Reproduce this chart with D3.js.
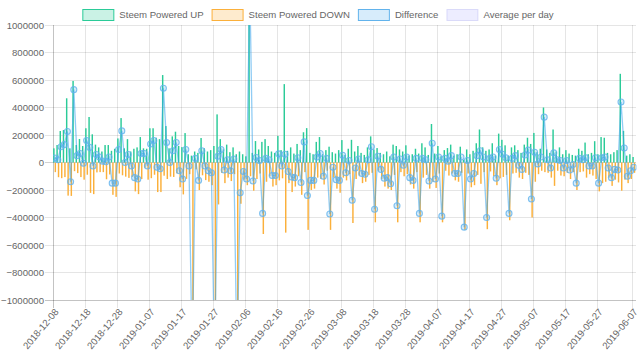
<!DOCTYPE html>
<html><head><meta charset="utf-8">
<script src="https://cdn.jsdelivr.net/npm/d3@7/dist/d3.min.js"></script>
<style>body{margin:0;background:#fff}svg{display:block;font-family:"Liberation Sans",Arial,Helvetica,sans-serif}</style>
</head><body><svg id="c" width="640" height="361"></svg>
<script>
const startDate = "2018-12-08";
const endDate = "2019-06-08";
const seriesNames = ["Steem Powered UP", "Steem Powered DOWN", "Difference", "Average per day"];
const poweredUp = [103000,127000,229000,236000,467000,103000,593000,127000,171000,120000,249000,331000,205000,130000,110000,80000,127000,127000,85000,100000,175000,323000,103000,170000,80000,100000,110000,185000,103000,100000,249000,249000,180000,170000,636000,265000,103000,190000,224000,120000,112000,214000,60000,50000,80000,70000,178000,103000,80000,90000,120000,350000,170000,95000,130000,75000,110000,60000,80000,60000,45000,1400000,70000,156000,95000,150000,170000,120000,80000,70000,193000,90000,570000,85000,110000,65000,135000,90000,220000,250000,70000,60000,150000,185000,60000,90000,115000,75000,65000,90000,163000,55000,100000,165000,80000,120000,70000,55000,110000,190000,95000,105000,70000,60000,80000,45000,130000,120000,95000,80000,125000,50000,60000,100000,65000,140000,110000,55000,280000,65000,120000,45000,90000,105000,130000,50000,60000,115000,20000,95000,60000,85000,140000,240000,110000,85000,95000,140000,50000,210000,165000,125000,50000,110000,125000,90000,70000,130000,180000,135000,215000,75000,100000,400000,95000,70000,240000,80000,110000,60000,90000,65000,55000,50000,100000,85000,145000,60000,70000,155000,60000,185000,180000,70000,60000,75000,90000,645000,230000,50000,60000,40000];
const poweredDown = [-70000,-107000,-114000,-106000,-241000,-243000,-63000,-77000,-106000,-125000,-89000,-221000,-230000,-72000,-70000,-70000,-122000,-87000,-235000,-250000,-80000,-93000,-103000,-112000,-105000,-210000,-230000,-120000,-38000,-125000,-114000,-89000,-215000,-215000,-96000,-120000,-103000,-105000,-79000,-180000,-232000,-119000,-85000,-1500000,-50000,-200000,-93000,-128000,-140000,-165000,-1600000,-305000,-75000,-150000,-110000,-135000,-85000,-1500000,-300000,-125000,-165000,-100000,-205000,-120000,-80000,-520000,-140000,-100000,-175000,-165000,-130000,-115000,-510000,-150000,-215000,-175000,-100000,-235000,-70000,-490000,-200000,-190000,-110000,-120000,-160000,-60000,-490000,-110000,-190000,-220000,-110000,-130000,-85000,-440000,-120000,-95000,-150000,-140000,-90000,-75000,-435000,-60000,-120000,-175000,-190000,-200000,-90000,-435000,-70000,-100000,-85000,-160000,-190000,-70000,-435000,-110000,-90000,-190000,-140000,-185000,-80000,-435000,-60000,-95000,-80000,-130000,-140000,-75000,-490000,-80000,-180000,-165000,-90000,-155000,-70000,-485000,-65000,-100000,-165000,-115000,-105000,-90000,-420000,-80000,-75000,-110000,-120000,-75000,-90000,-400000,-140000,-85000,-60000,-70000,-75000,-110000,-170000,-60000,-95000,-100000,-75000,-120000,-70000,-200000,-70000,-65000,-110000,-85000,-95000,-120000,-210000,-150000,-140000,-110000,-170000,-125000,-145000,-205000,-125000,-150000,-120000,-75000];
const difference = [33000,20000,115000,130000,226000,-140000,530000,50000,65000,-5000,160000,110000,-25000,58000,40000,10000,5000,40000,-150000,-150000,95000,230000,0,58000,-25000,-110000,-120000,65000,65000,-25000,135000,160000,-35000,-45000,540000,145000,0,85000,145000,-60000,-120000,95000,-25000,-1450000,30000,-130000,85000,-25000,-60000,-75000,-1480000,45000,95000,-55000,20000,-60000,25000,-1440000,-220000,-65000,-120000,1300000,-135000,36000,15000,-370000,30000,20000,-95000,-95000,63000,-25000,60000,-65000,-105000,-110000,35000,-145000,150000,-240000,-130000,-130000,40000,65000,-100000,30000,-375000,-35000,-125000,-130000,53000,-75000,15000,-275000,-40000,25000,-80000,-85000,20000,115000,-340000,45000,-50000,-115000,-110000,-155000,40000,-315000,25000,-20000,40000,-110000,-130000,30000,-370000,30000,20000,-135000,140000,-120000,40000,-390000,30000,10000,50000,-80000,-80000,40000,-470000,15000,-120000,-80000,50000,85000,40000,-400000,30000,40000,-115000,95000,60000,35000,-370000,30000,50000,-20000,-50000,55000,90000,-265000,75000,-10000,40000,330000,20000,-40000,70000,20000,15000,-40000,15000,-55000,-15000,-150000,30000,20000,35000,-25000,-25000,35000,-150000,35000,40000,-40000,-110000,-50000,-55000,440000,105000,-100000,-60000,-35000];
const yTicks = [-1000000,-800000,-600000,-400000,-200000,0,200000,400000,600000,800000,1000000];
const xTickLabels = ["2018-12-08","2018-12-18","2018-12-28","2019-01-07","2019-01-17","2019-01-27","2019-02-06","2019-02-16","2019-02-26","2019-03-08","2019-03-18","2019-03-28","2019-04-07","2019-04-17","2019-04-27","2019-05-07","2019-05-17","2019-05-27","2019-06-07"];

const colors = {
  up: "#2bcb98", upFill: "rgba(43,203,152,0.25)",
  down: "#fbb03b", downFill: "rgba(251,176,59,0.25)",
  diff: "rgba(54,162,235,0.55)", diffFill: "rgba(54,162,235,0.2)", diffBorder: "#62b3ec",
  avg: "rgba(153,153,235,0.35)", avgFill: "rgba(153,153,255,0.18)"
};

const parse = d3.utcParse("%Y-%m-%d");
const dates = d3.utcDay.range(parse(startDate), parse(endDate));
const L = 53, R = 635.4, T = 25, B = 300;
const svg = d3.select("#c");
const x = d3.scaleUtc().domain([parse(startDate), parse(endDate)]).range([L, R]);
const y = d3.scaleLinear().domain([-1000000, 1000000]).range([B, T]);
const dayW = x(dates[1]) - x(dates[0]);
const barW = 1.45;
const cx = d => x(d) + dayW / 2;

svg.append("defs").append("clipPath").attr("id", "pc")
  .append("rect").attr("x", L).attr("y", T).attr("width", R - L + 1).attr("height", B - T);

// grid
const grid = svg.append("g");
grid.selectAll(".hy").data(yTicks).join("line")
  .attr("x1", L - 8).attr("x2", R + 1).attr("y1", d => y(d)).attr("y2", d => y(d))
  .attr("stroke", d => d === 0 ? "rgba(0,0,0,0.18)" : "rgba(0,0,0,0.1)").attr("stroke-width", 1)
  .attr("shape-rendering", "crispEdges");
const xTicks = xTickLabels.map(parse);
grid.selectAll(".vx").data(xTicks).join("line")
  .attr("x1", d => x(d)).attr("x2", d => x(d)).attr("y1", T).attr("y2", B + 8)
  .attr("stroke", "rgba(0,0,0,0.1)").attr("shape-rendering", "crispEdges");
grid.append("line").attr("x1", L).attr("x2", L).attr("y1", T).attr("y2", B + 8)
  .attr("stroke", "rgba(0,0,0,0.15)").attr("shape-rendering", "crispEdges");
grid.append("line").attr("x1", L - 8).attr("x2", R + 1).attr("y1", B).attr("y2", B)
  .attr("stroke", "rgba(0,0,0,0.15)").attr("shape-rendering", "crispEdges");

// y labels
const yAxis = d3.axisLeft(y).tickValues(yTicks).tickSize(0).tickPadding(0).tickFormat(d3.format("d"));
const ya = svg.append("g").attr("transform", `translate(${L - 9},0)`).call(yAxis);
ya.select(".domain").remove();
ya.selectAll("text").attr("fill", "#666").style("font-size", "9.6px").style("font-family", "Liberation Sans, Arial, sans-serif");

// x labels
const xAxis = d3.axisBottom(x).tickValues(xTicks).tickSize(0).tickFormat(d3.utcFormat("%Y-%m-%d"));
const xa = svg.append("g").attr("transform", `translate(0,${B})`).call(xAxis);
xa.select(".domain").remove();
xa.selectAll("text").attr("fill", "#666").style("font-size", "9.6px").style("font-family", "Liberation Sans, Arial, sans-serif")
  .attr("text-anchor", "end").attr("y", 0).attr("dy", "0.35em")
  .attr("transform", "translate(3,10) rotate(-50)");

// bars
const plot = svg.append("g").attr("clip-path", "url(#pc)");
plot.selectAll(".up").data(dates).join("rect")
  .attr("x", (d, i) => cx(d) - barW).attr("width", barW)
  .attr("y", (d, i) => y(poweredUp[i])).attr("height", (d, i) => y(0) - y(poweredUp[i]))
  .attr("fill", colors.up);
plot.selectAll(".dn").data(dates).join("rect")
  .attr("x", (d, i) => cx(d)).attr("width", barW)
  .attr("y", y(0)).attr("height", (d, i) => y(poweredDown[i]) - y(0))
  .attr("fill", colors.down);

// difference line
const line = d3.line().x((d, i) => cx(dates[i])).y(d => y(d));
plot.append("path").datum(difference).attr("d", line)
  .attr("fill", "none").attr("stroke", colors.diff).attr("stroke-width", 1.3);
plot.selectAll(".pt").data(difference).join("circle")
  .attr("cx", (d, i) => cx(dates[i])).attr("cy", d => y(d)).attr("r", 3)
  .attr("fill", colors.diffFill).attr("stroke", colors.diffBorder).attr("stroke-opacity", 0.8).attr("stroke-width", 1.1);

// legend
const legendItems = [
  {name: seriesNames[0], fill: colors.upFill, stroke: colors.up},
  {name: seriesNames[1], fill: colors.downFill, stroke: colors.down},
  {name: seriesNames[2], fill: colors.diffFill, stroke: "#62b3ec"},
  {name: seriesNames[3], fill: colors.avgFill, stroke: "rgba(153,153,235,0.3)"}
];
const lg = svg.append("g");
const items = lg.selectAll("g").data(legendItems).join("g");
items.append("rect").attr("x", 0.5).attr("y", 9.5).attr("width", 31).attr("height", 11)
  .attr("fill", d => d.fill).attr("stroke", d => d.stroke).attr("stroke-width", 1);
items.append("text").attr("x", 37).attr("y", 15).attr("dy", "0.35em")
  .attr("fill", "#666").style("font-size", "9.6px").text(d => d.name);
const widths = [];
items.each(function () { widths.push(37 + this.querySelector("text").getComputedTextLength()); });
const gap = 8;
const total = d3.sum(widths) + gap * (widths.length - 1);
let start = 318 - total / 2;
items.attr("transform", (d, i) => { const t = `translate(${start},0)`; start += widths[i] + gap; return t; });
</script>
</body></html>
